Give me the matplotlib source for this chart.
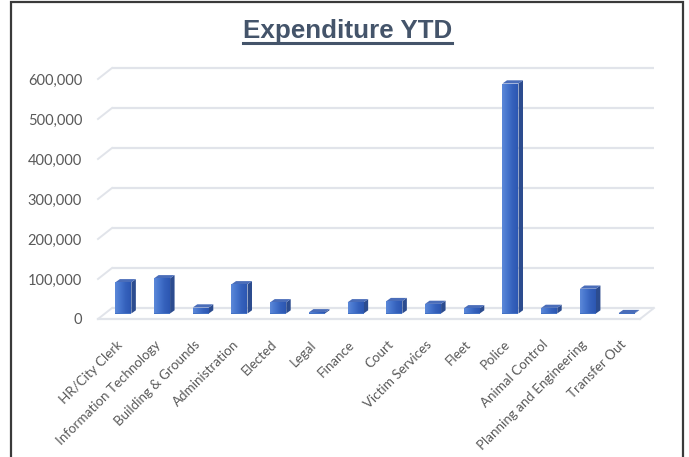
import numpy as np
import matplotlib
matplotlib.use("Agg")
import matplotlib.pyplot as plt
import matplotlib.transforms as mtransforms
from matplotlib.patches import Rectangle, Polygon
from matplotlib.colors import LinearSegmentedColormap
from matplotlib.ticker import FuncFormatter

# === Data ===
categories = ["HR/City Clerk", "Information Technology", "Building & Grounds",
              "Administration", "Elected", "Legal", "Finance", "Court",
              "Victim Services", "Fleet", "Police", "Animal Control",
              "Planning and Engineering", "Transfer Out"]
expenditure = [78000, 88000, 15000, 73000, 28000, 3000, 28000, 31000,
               24000, 13000, 575000, 14000, 62000, 1000]
y_ticks = [0, 100000, 200000, 300000, 400000, 500000, 600000]

# === Figure / axes (front plane of the 3D box) ===
W, H, DPI = 689, 457, 100
fig = plt.figure(figsize=(W / DPI, H / DPI), dpi=DPI)
fig.patch.set_facecolor("white")

left_px, right_px = 98, 640
zero_px, top_px = 319, 79
ax = fig.add_axes([left_px / W, (H - zero_px) / H,
                   (right_px - left_px) / W, (zero_px - top_px) / H])
n = len(categories)
ax.set_xlim(-0.5, n - 0.5)
ax.set_ylim(0, 600000)
for s in ax.spines.values():
    s.set_visible(False)
ax.patch.set_alpha(0)

px_x = (right_px - left_px) / n          # pixels per category
px_y = (zero_px - top_px) / 600000       # pixels per unit value

tick_font = "Lato"
tick_color = "#595959"

ax.set_yticks(y_ticks)
ax.yaxis.set_major_formatter(FuncFormatter(lambda v, p: f"{int(v):,}"))
ax.tick_params(axis="y", length=0, pad=11.5, labelsize=10.5, labelcolor=tick_color)
ax.set_xticks(range(n))
ax.set_xticklabels(categories, rotation=45, ha="right", va="center",
                   rotation_mode="anchor", fontsize=9.6, color=tick_color)
ax.tick_params(axis="x", length=0, pad=17)
for lab in ax.get_xticklabels() + ax.get_yticklabels():
    lab.set_fontfamily(tick_font)
# shift category labels a little right like excel does
shift = mtransforms.ScaledTranslation(3 / DPI, 0, fig.dpi_scale_trans)
for lab in ax.get_xticklabels():
    lab.set_transform(lab.get_transform() + shift)

# depth offsets (display pixels)
depth_dx, depth_dy = 14, 11
back = ax.transData + mtransforms.ScaledTranslation(depth_dx / DPI, depth_dy / DPI, fig.dpi_scale_trans)
mid = ax.transData + mtransforms.ScaledTranslation(6 / DPI, 5.5 / DPI, fig.dpi_scale_trans)

# === Gridlines on the back wall + slanted side wall ===
grid_color = "#E1E4EA"
x0, x1 = -0.5, n - 0.5
for v in y_ticks:
    ax.plot([x0, x1], [v, v], color=grid_color, lw=1.6, transform=back,
            solid_capstyle="butt", clip_on=False, zorder=1)
    ax.plot([x0, x0 + depth_dx / px_x], [v, v + depth_dy / px_y], color=grid_color,
            lw=1.4, clip_on=False, zorder=1)
# floor front edge and right edge
ax.plot([x0, x1], [0, 0], color=grid_color, lw=1.6, clip_on=False, zorder=1)
ax.plot([x1, x1 + depth_dx / px_x], [0, depth_dy / px_y], color=grid_color,
        lw=1.4, clip_on=False, zorder=1)

# === 3D columns ===
bar_w = 16 / px_x
side_dx = 4.5 / px_x
side_dy = 3.2 / px_y
front_cmap = LinearSegmentedColormap.from_list("front", ["#5C88D9", "#4675CD", "#3561BC", "#2C57B2"])
grad = np.linspace(0, 1, 64).reshape(1, -1)

bars = ax.bar(range(n), expenditure, width=bar_w, color="#4472C4",
              transform=mid, zorder=3, clip_on=False)
for i, (rect, v) in enumerate(zip(bars, expenditure)):
    xl = i - bar_w / 2
    xr = i + bar_w / 2
    im = ax.imshow(grad, cmap=front_cmap, aspect="auto", interpolation="bicubic",
                   extent=[xl, xr, 0, v], zorder=3.1, clip_on=True)
    im.set_transform(mid)
    im.set_clip_path(rect)
    side = Polygon([[xr, 0], [xr + side_dx, side_dy], [xr + side_dx, v + side_dy], [xr, v]],
                   closed=True, facecolor="#2C4C8F", edgecolor="none",
                   transform=mid, zorder=3, clip_on=False)
    ax.add_patch(side)
    top = Polygon([[xl, v], [xr, v], [xr + side_dx, v + side_dy], [xl + side_dx, v + side_dy]],
                  closed=True, facecolor="#4A6DB9", edgecolor="none",
                  transform=mid, zorder=3, clip_on=False)
    ax.add_patch(top)
ax.set_xlim(-0.5, n - 0.5)
ax.set_ylim(0, 600000)

# === Title ===
fig.text(347.5 / W, 1 - 31 / H, "Expenditure YTD", ha="center", va="center",
         fontsize=18.7, fontweight="bold", color="#44546A",
         fontfamily="Liberation Sans")
fig.add_artist(plt.Line2D([243 / W, 452 / W], [1 - 43 / H, 1 - 43 / H],
                          color="#44546A", lw=2.2, transform=fig.transFigure))

# === Outer frame ===
fig.add_artist(Rectangle((10.5 / W, -0.05), (683 - 10.5) / W, 1.05 - 2.5 / H,
                         transform=fig.transFigure, fill=False,
                         edgecolor="#3a3a3a", lw=1.6))

plt.savefig("out.png", dpi=DPI, facecolor="white")
